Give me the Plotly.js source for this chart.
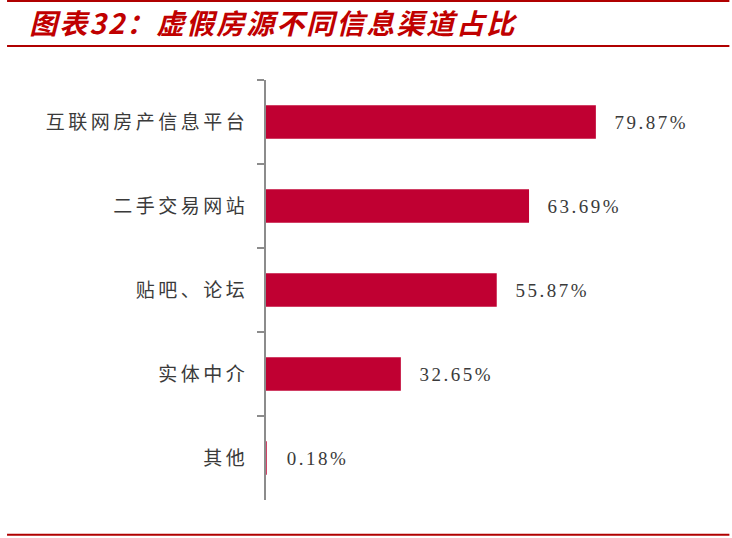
<!DOCTYPE html>
<html>
<head>
<meta charset="utf-8">
<script src="https://cdn.plot.ly/plotly-3.0.1.min.js"></script>
<style>
  html, body { margin: 0; padding: 0; background: #fff; }
  #chart { width: 732px; height: 538px; }
  /* the source uses a wide-set song typeface; spread the glyphs to match */
  #chart .ytick text { letter-spacing: 3.5px; }
  #chart .annotation-text { letter-spacing: 2.5px; }
  #chart .gtitle { letter-spacing: 2px; }
</style>
</head>
<body>
<div id="chart"></div>
<script>
const categories = ['互联网房产信息平台', '二手交易网站', '贴吧、论坛', '实体中介', '其他'];
const shares = [79.87, 63.69, 55.87, 32.65, 0.18];
const shareLabels = ['79.87%', '63.69%', '55.87%', '32.65%', '0.18%'];

const BAR_COLOR = '#C00032';
const LINE_RED = '#B00000';
const TEXT_COLOR = '#3a3a3a';

const trace = {
  type: 'bar',
  orientation: 'h',
  x: shares,
  y: categories,
  marker: { color: BAR_COLOR },
  hoverinfo: 'none',
};

// value labels sit a little further from the bar end than plotly's outside text
const labels = shares.map((v, i) => ({
  x: v,
  y: categories[i],
  xref: 'x',
  yref: 'y',
  text: shareLabels[i],
  showarrow: false,
  xanchor: 'left',
  xshift: 24,
  font: { family: 'Liberation Serif, DejaVu Serif, serif', size: 19, color: TEXT_COLOR },
}));

const hline = (y) => ({
  type: 'line',
  xref: 'paper',
  yref: 'paper',
  x0: -0.627,
  x1: 1.122,
  y0: y,
  y1: y,
  line: { color: LINE_RED, width: 2 },
});

Plotly.newPlot(
  'chart',
  [trace],
  {
    width: 732,
    height: 538,
    margin: { l: 266, r: 53, t: 80, b: 38 },
    paper_bgcolor: '#fff',
    plot_bgcolor: '#fff',
    showlegend: false,
    bargap: 0.6,
    title: {
      text: '<b><i>图表32：虚假房源不同信息渠道占比</i></b>',
      x: 0.04,
      xanchor: 'left',
      y: 0.955,
      yanchor: 'middle',
      font: { family: 'Noto Sans CJK SC, sans-serif', size: 28, color: '#C00000' },
    },
    xaxis: {
      range: [0, 100],
      visible: false,
      fixedrange: true,
    },
    yaxis: {
      type: 'category',
      autorange: 'reversed',
      showline: true,
      linecolor: '#8c8c8c',
      linewidth: 2,
      ticks: 'outside',
      tickson: 'boundaries',
      ticklen: 7,
      tickwidth: 2,
      tickcolor: '#8c8c8c',
      showgrid: false,
      zeroline: false,
      ticklabelstandoff: 12,
      tickfont: { family: 'Noto Sans CJK SC, sans-serif', size: 19, color: TEXT_COLOR },
      fixedrange: true,
    },
    annotations: labels,
    shapes: [hline(1.188), hline(1.081), hline(-0.083)],
  },
  { displayModeBar: false, staticPlot: true },
);
</script>
</body>
</html>
